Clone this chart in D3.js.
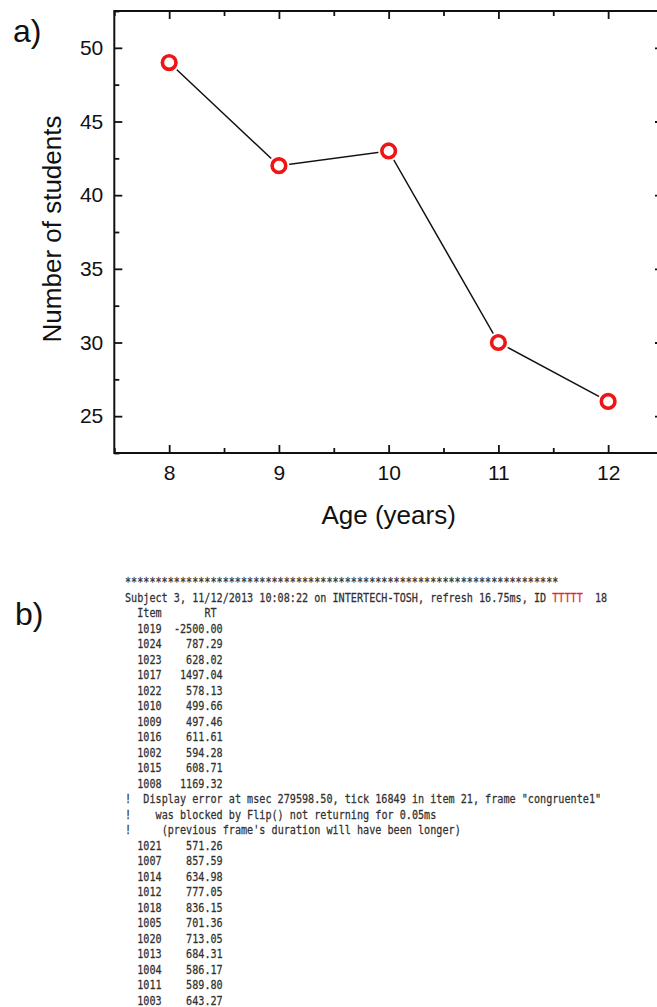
<!DOCTYPE html>
<html>
<head>
<meta charset="utf-8">
<script src="https://cdn.jsdelivr.net/npm/d3@7"></script>
<style>
  html, body { margin: 0; padding: 0; background: #fff; }
  svg { display: block; }
</style>
</head>
<body>
<svg id="fig" width="657" height="1007"></svg>
<script>
// ---- panel a: number of students by age ----
const ages = [8, 9, 10, 11, 12];
const students = [49, 42, 43, 30, 26];
const ageTicks = [8, 9, 10, 11, 12];
const ageMinorTicks = [7.5, 8.5, 9.5, 10.5, 11.5, 12.5];
const countTicks = [25, 30, 35, 40, 45, 50];
const countMinorTicks = [22.5, 27.5, 32.5, 37.5, 42.5, 47.5, 52.5];

// ---- panel b: response-time log ----
const ruleLine = "***********************************************************************";
const subjectHead = "Subject 3, 11/12/2013 10:08:22 on INTERTECH-TOSH, refresh 16.75ms, ID ";
const subjectId = "TTTTT";
const subjectTail = "  18";
const itemsA = ["1019", "1024", "1023", "1017", "1022", "1010", "1009", "1016", "1002", "1015", "1008"];
const rtA = ["-2500.00", "787.29", "628.02", "1497.04", "578.13", "499.66", "497.46", "611.61", "594.28", "608.71", "1169.32"];
const warnings = [
  { indent: 3, text: "Display error at msec 279598.50, tick 16849 in item 21, frame \"congruente1\"" },
  { indent: 5, text: "was blocked by Flip() not returning for 0.05ms" },
  { indent: 6, text: "(previous frame's duration will have been longer)" }
];
const itemsB = ["1021", "1007", "1014", "1012", "1018", "1005", "1020", "1013", "1004", "1011", "1003"];
const rtB = ["571.26", "857.59", "634.98", "777.05", "836.15", "701.36", "713.05", "684.31", "586.17", "589.80", "643.27"];

const svg = d3.select("#fig");
const sans = "'Liberation Sans', Arial, sans-serif";

// plot frame
const plotL = 114.3, plotR = 663, plotT = 11, plotB = 453;
const x = d3.scaleLinear().domain([7.5, 12.5]).range([plotL, plotR]);
const y = d3.scaleLinear().domain([22.5, 52.5]).range([plotB, plotT]);

const axes = svg.append("g").attr("class", "axes");

function styleAxis(g, labelled) {
  g.select(".domain").remove();
  g.selectAll(".tick line").attr("stroke", "#111").attr("stroke-width", 1.8);
  g.selectAll(".tick text")
    .attr("fill", "#111")
    .style("font-family", sans)
    .style("font-size", "21px");
  if (!labelled) g.selectAll(".tick text").remove();
}

// bottom
axes.append("g").attr("transform", `translate(0,${plotB})`)
  .call(d3.axisBottom(x).tickValues(ageTicks).tickSize(-8).tickSizeOuter(0).tickPadding(12).tickFormat(d3.format("d")))
  .call(g => styleAxis(g, true));
axes.append("g").attr("transform", `translate(0,${plotB})`)
  .call(d3.axisBottom(x).tickValues(ageMinorTicks).tickSize(-5).tickSizeOuter(0).tickFormat(""))
  .call(g => styleAxis(g, false));
// top
axes.append("g").attr("transform", `translate(0,${plotT})`)
  .call(d3.axisTop(x).tickValues(ageTicks).tickSize(-8).tickSizeOuter(0).tickFormat(""))
  .call(g => styleAxis(g, false));
axes.append("g").attr("transform", `translate(0,${plotT})`)
  .call(d3.axisTop(x).tickValues(ageMinorTicks).tickSize(-5).tickSizeOuter(0).tickFormat(""))
  .call(g => styleAxis(g, false));
// left
axes.append("g").attr("transform", `translate(${plotL},0)`)
  .call(d3.axisLeft(y).tickValues(countTicks).tickSize(-8).tickSizeOuter(0).tickPadding(11).tickFormat(d3.format("d")))
  .call(g => styleAxis(g, true));
axes.append("g").attr("transform", `translate(${plotL},0)`)
  .call(d3.axisLeft(y).tickValues(countMinorTicks).tickSize(-5).tickSizeOuter(0).tickFormat(""))
  .call(g => styleAxis(g, false));
// right
axes.append("g").attr("transform", `translate(${plotR},0)`)
  .call(d3.axisRight(y).tickValues(countTicks).tickSize(-8).tickSizeOuter(0).tickFormat(""))
  .call(g => styleAxis(g, false));
axes.append("g").attr("transform", `translate(${plotR},0)`)
  .call(d3.axisRight(y).tickValues(countMinorTicks).tickSize(-5).tickSizeOuter(0).tickFormat(""))
  .call(g => styleAxis(g, false));

// frame
svg.append("rect")
  .attr("x", plotL).attr("y", plotT)
  .attr("width", plotR - plotL).attr("height", plotB - plotT)
  .attr("fill", "none").attr("stroke", "#111").attr("stroke-width", 2);

// axis titles
svg.append("text")
  .attr("x", (plotL + plotR) / 2).attr("y", 524)
  .attr("text-anchor", "middle")
  .style("font-family", sans).style("font-size", "26px").attr("fill", "#111")
  .text("Age (years)");
svg.append("text")
  .attr("transform", `translate(61,${(plotT + plotB) / 2 - 3}) rotate(-90)`)
  .attr("text-anchor", "middle")
  .style("font-family", sans).style("font-size", "26px").attr("fill", "#111")
  .text("Number of students");

// data line
const pts = ages.map((a, i) => [a, students[i]]);
svg.append("path")
  .datum(pts)
  .attr("fill", "none").attr("stroke", "#111").attr("stroke-width", 1.5)
  .attr("d", d3.line().x(d => x(d[0])).y(d => y(d[1])));

// markers: white gap ring, then the red open circle
const mk = svg.append("g");
mk.selectAll("circle.halo").data(pts).join("circle")
  .attr("class", "halo")
  .attr("cx", d => x(d[0])).attr("cy", d => y(d[1]))
  .attr("r", 10.5).attr("fill", "#fff");
mk.selectAll("circle.pt").data(pts).join("circle")
  .attr("class", "pt")
  .attr("cx", d => x(d[0])).attr("cy", d => y(d[1]))
  .attr("r", 6.8).attr("fill", "#fff")
  .attr("stroke", "#f01414").attr("stroke-width", 3.6);

// panel letters
svg.append("text").attr("x", 13).attr("y", 42)
  .style("font-family", sans).style("font-size", "32px").attr("fill", "#111").text("a)");
svg.append("text").attr("x", 15).attr("y", 625)
  .style("font-family", sans).style("font-size", "32px").attr("fill", "#111").text("b)");

// ---- panel b: monospaced log text ----
// narrow console face: natural advance of 6.11px, glyphs stretched vertically
const charW = 6.11;
const monoSize = charW / 0.602;
const stretchY = 1.26;
const colX = d3.scaleLinear().domain([0, 1]).range([125, 125 + charW]);
const rowY = d3.scaleLinear().domain([0, 1]).range([586, 601.5]);
const mono = "'DejaVu Sans Mono', 'Liberation Mono', monospace";
const logG = svg.append("g").attr("fill", "#303030")
  .attr("stroke", "#303030").attr("stroke-width", 0.2)
  .style("font-family", mono).style("font-size", monoSize + "px");

const nb = s => s.replace(/ /g, "\u00A0");

function lineAt(col, row) {
  return logG.append("text")
    .attr("transform", `translate(${colX(col)},${rowY(row)}) scale(1,${stretchY})`);
}
function put(str, col, row) {
  return lineAt(col, row).text(nb(str));
}

put(ruleLine, 0, 0);

// subject header, with the ID shown in red
const subj = lineAt(0, 1);
subj.append("tspan").text(nb(subjectHead));
subj.append("tspan").attr("fill", "#e0282a").attr("stroke", "#e0282a").text(subjectId);
subj.append("tspan").text(nb(subjectTail));

put("Item", 2, 2);
put("RT", 13, 2);

const valueEnd = 16;
itemsA.forEach((it, i) => {
  put(it, 2, 3 + i);
  put(rtA[i], valueEnd - rtA[i].length, 3 + i);
});
warnings.forEach((w, i) => {
  put("!", 0, 14 + i);
  put(w.text, w.indent, 14 + i);
});
itemsB.forEach((it, i) => {
  put(it, 2, 17 + i);
  put(rtB[i], valueEnd - rtB[i].length, 17 + i);
});
</script>
</body>
</html>
